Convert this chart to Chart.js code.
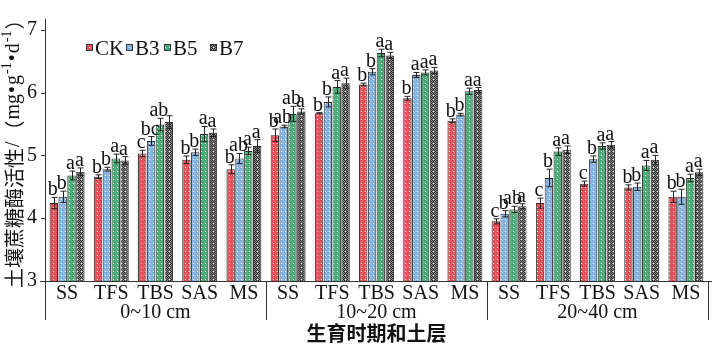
<!DOCTYPE html>
<html>
<head>
<meta charset="utf-8">
<script src="https://cdn.jsdelivr.net/npm/chart.js@4.4.1/dist/chart.umd.min.js"></script>
<style>
  html, body { margin: 0; padding: 0; background: #fff; }
  #wrap { width: 716px; height: 344px; position: relative; }
</style>
</head>
<body>
<div id="wrap"><canvas id="c"></canvas></div>
<script>
// Growth stages, repeated for each soil layer
const stages = ['SS', 'TFS', 'TBS', 'SAS', 'MS'];
const layers = ['0~10 cm', '10~20 cm', '20~40 cm'];
const categories = [...stages, ...stages, ...stages];
const seriesNames = ['CK', 'B3', 'B5', 'B7'];
const yTicks = [3, 4, 5, 6, 7];

// Soil sucrase activity (mg·g⁻¹·d⁻¹)
const ck = [4.24, 4.66, 5.03, 4.93, 4.78, 5.32, 5.67, 6.13, 5.91, 5.55, 3.95, 4.24, 4.55, 4.49, 4.34];
const b3 = [4.34, 4.78, 5.23, 5.05, 4.95, 5.46, 5.85, 6.33, 6.28, 5.65, 4.07, 4.64, 4.94, 4.50, 4.34];
const b5 = [4.68, 4.95, 5.49, 5.34, 5.07, 5.66, 6.09, 6.63, 6.32, 6.02, 4.14, 5.06, 5.15, 4.84, 4.64];
const b7 = [4.74, 4.92, 5.53, 5.36, 5.15, 5.70, 6.15, 6.59, 6.35, 6.04, 4.19, 5.09, 5.17, 4.93, 4.73];

// Standard errors
const ckErr = [0.09, 0.03, 0.05, 0.06, 0.07, 0.10, 0.01, 0.02, 0.03, 0.03, 0.04, 0.08, 0.04, 0.04, 0.09];
const b3Err = [0.09, 0.03, 0.07, 0.05, 0.08, 0.02, 0.08, 0.05, 0.04, 0.02, 0.05, 0.14, 0.05, 0.06, 0.12];
const b5Err = [0.07, 0.07, 0.10, 0.12, 0.06, 0.12, 0.10, 0.06, 0.04, 0.05, 0.05, 0.06, 0.05, 0.08, 0.06];
const b7Err = [0.06, 0.06, 0.10, 0.06, 0.10, 0.04, 0.08, 0.05, 0.05, 0.04, 0.04, 0.06, 0.05, 0.07, 0.05];

// Significance letters
const ckSig = ['b', 'b', 'c', 'b', 'b', 'b', 'b', 'b', 'b', 'b', 'c', 'c', 'c', 'b', 'b'];
const b3Sig = ['b', 'b', 'bc', 'b', 'ab', 'ab', 'b', 'b', 'a', 'b', 'b', 'b', 'b', 'b', 'b'];
const b5Sig = ['a', 'a', 'ab', 'a', 'a', 'ab', 'a', 'a', 'a', 'a', 'ab', 'a', 'a', 'a', 'a'];
const b7Sig = ['a', 'a', '', 'a', 'a', 'a', 'a', 'a', 'a', 'a', 'a', 'a', 'a', 'a', 'a'];

const SERIF = '"Liberation Serif", "DejaVu Serif", serif';
const CJK = '"Noto Sans CJK SC", sans-serif';

const canvas = document.getElementById('c');
const ctx0 = canvas.getContext('2d');

// Dotted texture fills for the bars
function makePattern(base, texture, dot, checker) {
  const t = document.createElement('canvas');
  t.width = 4; t.height = 4;
  const g = t.getContext('2d');
  g.fillStyle = base; g.fillRect(0, 0, 4, 4);
  g.fillStyle = texture;
  if (checker) {
    for (let i = 0; i < 4; i++) for (let j = 0; j < 4; j++) if ((i + j) % 2 === 0) g.fillRect(i, j, 1, 1);
  } else {
    g.fillRect(0, 0, 1, 1); g.fillRect(2, 2, 1, 1);
  }
  g.fillStyle = dot; g.fillRect(1, 3, 1, 1);
  return ctx0.createPattern(t, 'repeat');
}

const fills = [
  makePattern('#e6575c', '#cc4248', '#ffffff', false),
  makePattern('#8ab8e6', '#6fa0d4', '#ffffff', false),
  makePattern('#4fb27c', '#3a9866', '#ffffff', false),
  makePattern('#8a8a8a', '#2e2e2e', '#ffffff', true)
];
const values = [ck, b3, b5, b7];
const errs = [ckErr, b3Err, b5Err, b7Err];
const sigs = [ckSig, b3Sig, b5Sig, b7Sig];

const overlay = {
  id: 'overlay',
  afterDatasetsDraw(chart) {
    const ctx = chart.ctx;
    const y = chart.scales.y;
    ctx.save();
    ctx.strokeStyle = '#222';
    ctx.lineWidth = 1;
    values.forEach((vals, d) => {
      const meta = chart.getDatasetMeta(d);
      meta.data.forEach((bar, i) => {
        const x = Math.round(bar.x) + 0.5;
        const top = y.getPixelForValue(vals[i] + errs[d][i]);
        const bot = y.getPixelForValue(vals[i] - errs[d][i]);
        ctx.beginPath();
        ctx.moveTo(x, top); ctx.lineTo(x, bot);
        ctx.moveTo(x - 3, top); ctx.lineTo(x + 3, top);
        ctx.moveTo(x - 3, bot); ctx.lineTo(x + 3, bot);
        ctx.stroke();
        if (sigs[d][i]) {
          ctx.fillStyle = '#111';
          ctx.font = '20px ' + SERIF;
          ctx.textAlign = 'center';
          ctx.textBaseline = 'alphabetic';
          ctx.fillText(sigs[d][i], bar.x - 1, top - 2);
        }
      });
    });
    ctx.restore();
  },
  afterDraw(chart) {
    const ctx = chart.ctx;
    const { left, right, top, bottom } = chart.chartArea;
    const xs = chart.scales.x, ys = chart.scales.y;
    ctx.save();
    ctx.strokeStyle = '#333';
    ctx.lineWidth = 1;
    // axis lines
    ctx.beginPath();
    ctx.moveTo(left + 0.5, top - 1); ctx.lineTo(left + 0.5, bottom);
    ctx.moveTo(left - 5, bottom + 0.5); ctx.lineTo(right + 4, bottom + 0.5);
    yTicks.forEach(v => {
      const py = Math.round(ys.getPixelForValue(v)) + 0.5;
      ctx.moveTo(left - 4, py); ctx.lineTo(left, py);
    });
    // layer separators
    for (let k = 0; k <= layers.length; k++) {
      const px = Math.round(left + (right - left) * k / layers.length) + 0.5;
      ctx.moveTo(px, bottom); ctx.lineTo(px, bottom + 39);
    }
    ctx.stroke();

    ctx.fillStyle = '#111';
    ctx.textAlign = 'center';
    ctx.textBaseline = 'alphabetic';
    ctx.font = '20px ' + SERIF;
    categories.forEach((c, i) => ctx.fillText(c, xs.getPixelForValue(i), 299));
    layers.forEach((l, k) => {
      const cx = left + (right - left) * (k + 0.5) / layers.length;
      ctx.fillText(l, cx, 318);
    });
    ctx.font = 'bold 20px ' + CJK;
    ctx.textBaseline = 'middle';
    ctx.fillText('生育时期和土层', (left + right) / 2, 333);

    // y-axis title, read bottom to top
    ctx.translate(14, 288);
    ctx.rotate(-Math.PI / 2);
    ctx.textAlign = 'left';
    ctx.textBaseline = 'middle';
    const parts = [
      { t: '土壤蔗糖酶活性', f: '20px ' + CJK, dy: 0 },
      { t: '/', f: '20px ' + SERIF, dy: 0 },
      { t: '（', f: '20px ' + CJK, dy: 0 },
      { t: 'mg', f: '20px ' + SERIF, dy: 0 },
      { t: '•', f: '20px ' + SERIF, dy: 0 },
      { t: 'g', f: '20px ' + SERIF, dy: 0 },
      { t: '-1', f: '14px ' + SERIF, dy: -7 },
      { t: '•', f: '20px ' + SERIF, dy: 0 },
      { t: 'd', f: '20px ' + SERIF, dy: 0 },
      { t: '-1', f: '14px ' + SERIF, dy: -7 },
      { t: '）', f: '20px ' + CJK, dy: 0 }
    ];
    let px = 0;
    parts.forEach(p => {
      ctx.font = p.f;
      ctx.fillText(p.t, px, p.dy);
      px += ctx.measureText(p.t).width + 1;
    });
    ctx.restore();

    // legend
    ctx.save();
    const legendX = [86, 126, 164, 210];
    ctx.font = '21px ' + SERIF;
    ctx.textBaseline = 'alphabetic';
    ctx.textAlign = 'left';
    seriesNames.forEach((n, d) => {
      ctx.fillStyle = fills[d];
      ctx.fillRect(legendX[d], 44, 7, 7);
      ctx.strokeStyle = '#333';
      ctx.strokeRect(legendX[d] + 0.5, 44.5, 6, 6);
      ctx.fillStyle = '#111';
      ctx.fillText(n, legendX[d] + 9, 55);
    });
    ctx.restore();
  }
};

new Chart(canvas, {
  type: 'bar',
  data: {
    labels: categories,
    datasets: seriesNames.map((n, d) => ({
      label: n,
      data: values[d],
      backgroundColor: fills[d],
      borderColor: '#2a2a2a',
      borderWidth: 1,
      categoryPercentage: 0.8,
      barPercentage: 0.95
    }))
  },
  options: {
    responsive: true,
    maintainAspectRatio: false,
    devicePixelRatio: 1,
    animation: false,
    layout: { padding: { left: 0, right: 8, top: 1, bottom: 0 } },
    plugins: { legend: { display: false }, tooltip: { enabled: false } },
    scales: {
      x: {
        grid: { display: false },
        border: { display: false },
        ticks: { display: false },
        afterFit(s) { s.height = 63; }
      },
      y: {
        min: 3,
        max: 7.155,
        grid: { display: false, drawTicks: false },
        border: { display: false },
        afterBuildTicks(s) { s.ticks = yTicks.map(v => ({ value: v })); },
        ticks: { color: '#111', font: { family: SERIF, size: 20 }, padding: 8 },
        afterFit(s) { s.width = 45; }
      }
    }
  },
  plugins: [overlay]
});
</script>
</body>
</html>
